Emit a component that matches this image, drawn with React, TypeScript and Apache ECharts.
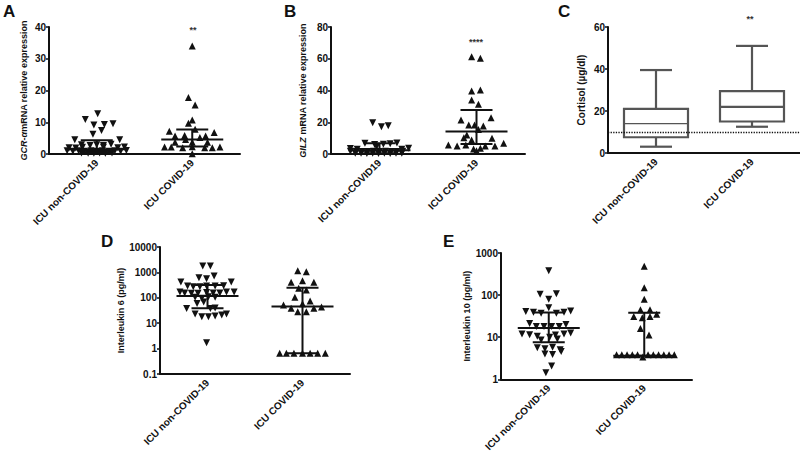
import React, { useEffect, useRef } from "react";
import * as echarts from "echarts";

// ---------- categories ----------
const catsA = ["ICU non-COVID-19", "ICU COVID-19"];
const catsB = ["ICU non-COVID19", "ICU COVID-19"];
const catsC = ["ICU non-COVID-19", "ICU COVID-19"];
const catsD = ["ICU non-COVID-19", "ICU COVID-19"];
const catsE = ["ICU non-COVID-19", "ICU COVID-19"];

// ---------- A: GCR-α mRNA relative expression  [jitter (category widths), value] ----------
const aNon: number[][] = [
  [0.01, 12.7], [-0.12, 10.9], [-0.03, 9.1], [0.08, 9.3], [0.17, 9.5], [0.05, 7.4], [-0.04, 6.2],
  [-0.23, 4.5], [0.24, 4.5],
  [-0.16, 2.9], [-0.07, 2.7], [0, 2.9], [0.07, 2.7], [0.15, 3.1],
  [-0.29, 2.0], [-0.22, 1.9], [-0.15, 2.1], [0.07, 2.1], [0.22, 2.0], [0.29, 2.2],
  [-0.31, 1.0], [-0.25, 0.9], [-0.19, 1.0], [-0.13, 0.9], [-0.06, 1.0], [0, 0.9], [0.06, 1.0],
  [0.13, 0.9], [0.19, 1.0], [0.25, 0.9], [0.31, 1.1],
  [-0.16, 0.3], [-0.09, 0.2], [-0.03, 0.2], [0.03, 0.3], [0.09, 0.2], [0.16, 0.3],
];
const aCov: number[][] = [
  [0, 34.0], [-0.04, 17.8], [0.03, 15.4], [-0.04, 9.7], [0, 10.7],
  [-0.24, 7.2], [0.03, 7.8], [0.23, 6.8], [-0.18, 5.7], [-0.08, 5.8], [0.14, 5.7],
  [-0.07, 4.6], [0.08, 5.2], [-0.18, 3.7], [0, 3.7], [0.16, 3.7],
  [-0.29, 2.2], [-0.22, 2.2], [-0.1, 2.0], [0, 2.3], [0.13, 2.0], [0.21, 2.0], [0.29, 2.2], [0, 0.1],
];
// [low, median, high]
const aSummary = [[0.5, 1.5, 4.3], [2.4, 4.6, 7.7]];

// ---------- B: GILZ mRNA relative expression ----------
const bNon: number[][] = [
  [-0.07, 19.7], [0.02, 17.2], [0.09, 17.8],
  [-0.15, 6.7], [-0.05, 6.0], [0.04, 6.2], [0.11, 6.5], [0.18, 6.9], [-0.03, 4.5],
  [-0.3, 3.4], [-0.23, 3.0], [0.23, 3.0], [0.3, 3.6],
  [-0.3, 1.8], [-0.24, 1.6], [-0.18, 1.5], [-0.12, 1.6], [-0.06, 1.7], [0, 1.5], [0.06, 1.7],
  [0.12, 1.6], [0.18, 1.5], [0.24, 1.7],
  [-0.25, 0.5], [-0.19, 0.4], [-0.13, 0.3], [-0.07, 0.4], [-0.01, 0.3], [0.05, 0.4], [0.11, 0.3],
  [0.17, 0.4], [0.23, 0.5],
];
const bCov: number[][] = [
  [-0.05, 61.3], [0.04, 60.3], [-0.05, 39.7], [0.04, 40.3], [-0.05, 34.0], [0.02, 31.3],
  [-0.16, 21.4], [0.15, 22.9], [-0.08, 18.3], [-0.02, 18.3], [0.07, 17.6], [0.02, 15.5],
  [-0.1, 12.0], [-0.13, 10.3], [-0.05, 8.8], [0.16, 9.9],
  [-0.29, 5.7], [-0.2, 5.0], [-0.11, 5.7], [-0.03, 3.1], [0.04, 3.6], [0.09, 5.0], [0.19, 5.0],
  [0.28, 6.7], [0.0, 2.0],
];
const bSummary = [[0.4, 2.3, 6.8], [6.3, 14.1, 27.7]];

// ---------- C: Cortisol (µg/dl) box plots [min, Q1, median, Q3, max] ----------
const cBoxes = [
  [3, 7.5, 14, 21, 39.5],
  [12.5, 15, 22, 29.5, 51],
];
const cReference = 10;

// ---------- D: Interleukin 6 (pg/ml) ----------
const dNon: number[][] = [
  [-0.05, 1780], [0.03, 1780], [-0.09, 615], [-0.01, 565], [0.07, 725], [-0.28, 415], [0.25, 415],
  [-0.21, 290], [-0.15, 275], [-0.08, 275], [-0.01, 290], [0.08, 290], [0.17, 300],
  [-0.29, 170], [-0.24, 155], [-0.17, 150], [-0.1, 150], [-0.01, 160], [0.06, 155], [0.13, 155],
  [0.2, 170], [0.28, 170],
  [-0.13, 105], [-0.06, 95], [0.01, 110], [0.08, 105], [-0.11, 60], [-0.04, 68],
  [-0.22, 38], [0.03, 38], [0.08, 40],
  [-0.13, 23], [-0.06, 18], [0.01, 18], [0.08, 19], [0.15, 21], [0.2, 23],
  [-0.01, 1.7],
];
const dCov: number[][] = [
  [-0.05, 1170], [0.04, 1070], [-0.12, 410], [0, 470], [0.12, 410], [-0.04, 235], [0.04, 205],
  [-0.08, 105], [0.08, 74], [-0.2, 52], [-0.12, 39], [0, 58], [0.12, 39], [0.2, 43],
  [-0.05, 28], [0.04, 28],
  [-0.24, 0.65], [-0.17, 0.65], [-0.09, 0.65], [0, 0.65], [0.08, 0.65], [0.16, 0.65], [0.24, 0.65],
];
const dSummary = [[39, 118, 320], [0.65, 45, 250]];

// ---------- E: Interleukin 10 (pg/ml) ----------
const eNon: number[][] = [
  [0, 380], [-0.09, 105], [0.08, 108], [0, 80], [0, 50],
  [-0.24, 41], [-0.16, 39], [-0.08, 37], [0.08, 37], [0.16, 39], [0.23, 42],
  [-0.2, 21], [-0.13, 18], [-0.05, 18], [0.03, 18], [0.11, 18], [0.18, 20],
  [-0.28, 11.9], [-0.2, 11.5], [-0.12, 10.5], [0.07, 11.3], [0.16, 11.9], [0.23, 12.6],
  [-0.08, 8.6], [0.01, 10], [0.09, 9.1],
  [-0.12, 5.6], [-0.04, 5.3], [0.04, 5.8], [0.12, 5.0],
  [-0.04, 4.0], [0.04, 3.9], [0.13, 4.6],
  [0.03, 2.06], [-0.03, 1.43],
];
const eCov: number[][] = [
  [0, 485], [0, 150], [0, 80], [-0.04, 45], [0.06, 45],
  [-0.11, 31], [-0.02, 29], [0.06, 31], [0.13, 35], [-0.04, 16], [0.05, 11.3],
  [-0.29, 3.8], [-0.235, 3.8], [-0.18, 3.8], [-0.125, 3.8], [-0.07, 3.8], [0.04, 3.8],
  [0.095, 3.8], [0.15, 3.8], [0.205, 3.8], [0.26, 3.8], [0.315, 3.8], [-0.015, 3.4],
];
const eSummary = [[7.6, 16.5, 38.5], [3.6, 3.6, 38]];

const FONT = "'Liberation Sans', Arial, Helvetica, sans-serif";
const INK = "#111";

export default function App() {
  const ref = useRef<HTMLDivElement>(null);

  useEffect(() => {
    if (!ref.current) return;
    const chart = echarts.init(ref.current, undefined, { renderer: "svg" });

    const grids = [
      { left: 49, top: 27, width: 191, height: 127 },
      { left: 331, top: 27, width: 194, height: 127 },
      { left: 608, top: 27, width: 192, height: 126 },
      { left: 160, top: 247, width: 190, height: 127 },
      { left: 501, top: 253, width: 191, height: 128 },
    ];
    const cats = [catsA, catsB, catsC, catsD, catsE];

    const xAxis: any[] = [];
    cats.forEach((c, i) => {
      xAxis.push({
        type: "category",
        gridIndex: i,
        data: c,
        boundaryGap: true,
        axisLine: { lineStyle: { color: INK, width: 2 } },
        axisTick: { alignWithLabel: true, length: 4, lineStyle: { color: INK, width: 1.5 } },
        axisLabel: {
          rotate: 45,
          margin: 7,
          color: INK,
          fontWeight: "bold",
          fontSize: 10,
          fontFamily: FONT,
        },
        splitLine: { show: false },
      });
      xAxis.push({ type: "value", gridIndex: i, min: 0, max: 2, show: false });
    });

    const yCommon = (i: number) => ({
      gridIndex: i,
      nameLocation: "middle",
      nameRotate: 90,
      axisLine: { show: true, lineStyle: { color: INK, width: 2 } },
      axisTick: { show: true, length: 3, lineStyle: { color: INK, width: 1.5 } },
      axisLabel: { color: INK, fontWeight: "bold", fontSize: 10, fontFamily: FONT, margin: 3 },
      splitLine: { show: false },
    });
    const nameStyle = {
      color: INK,
      fontWeight: "bold",
      fontSize: 9,
      fontFamily: FONT,
      rich: {
        i: { fontStyle: "italic", fontWeight: "bold", fontSize: 9, fontFamily: FONT, color: INK },
      },
    };

    const yAxis: any[] = [
      { ...yCommon(0), type: "value", min: 0, max: 40, interval: 10, name: "{i|GCR-α}mRNA relative expression", nameGap: 21, nameTextStyle: nameStyle },
      { ...yCommon(1), type: "value", min: 0, max: 80, interval: 20, name: "{i|GILZ} mRNA relative expression", nameGap: 24, nameTextStyle: nameStyle },
      { ...yCommon(2), type: "value", min: 0, max: 60, interval: 20, name: "Cortisol (µg/dl)", nameGap: 22, nameTextStyle: { ...nameStyle, fontSize: 10 } },
      { ...yCommon(3), type: "log", logBase: 10, min: 0.1, max: 10000, name: "Interleukin 6 (pg/ml)", nameGap: 30, nameTextStyle: nameStyle,
        axisLabel: { ...yCommon(3).axisLabel, formatter: (v: number) => (v < 1 ? "0.1" : String(Math.round(v))) } },
      { ...yCommon(4), type: "log", logBase: 10, min: 1, max: 1000, name: "Interleukin 10 (pg/ml)", nameGap: 26, nameTextStyle: nameStyle,
        axisLabel: { ...yCommon(4).axisLabel, formatter: (v: number) => String(Math.round(v)) } },
    ];

    const scatter = (i: number, pts: number[][], center: number, down: boolean) => ({
      type: "scatter",
      xAxisIndex: 2 * i + 1,
      yAxisIndex: i,
      symbol: "triangle",
      symbolSize: 7,
      symbolRotate: down ? 180 : 0,
      itemStyle: { color: INK, opacity: 1 },
      clip: false,
      data: pts.map(([dx, v]) => [center + dx, v]),
      z: 2,
    });

    const summary = (i: number, s: number[][]) => ({
      type: "custom",
      xAxisIndex: 2 * i + 1,
      yAxisIndex: i,
      z: 3,
      data: s.map((r, k) => [0.5 + k, r[0], r[1], r[2]]),
      renderItem: (_p: any, api: any) => {
        const c = api.value(0);
        const pl = api.coord([c, api.value(1)]);
        const pm = api.coord([c, api.value(2)]);
        const ph = api.coord([c, api.value(3)]);
        const st = { stroke: INK, lineWidth: 2, fill: "none" };
        return {
          type: "group",
          children: [
            { type: "line", shape: { x1: pm[0] - 31, y1: pm[1], x2: pm[0] + 31, y2: pm[1] }, style: st },
            { type: "line", shape: { x1: pl[0], y1: pl[1], x2: ph[0], y2: ph[1] }, style: st },
            { type: "line", shape: { x1: ph[0] - 16, y1: ph[1], x2: ph[0] + 16, y2: ph[1] }, style: st },
            { type: "line", shape: { x1: pl[0] - 16, y1: pl[1], x2: pl[0] + 16, y2: pl[1] }, style: st },
          ],
        };
      },
    });

    const BOXC = "#555";
    const boxSeries = {
      type: "custom",
      xAxisIndex: 5,
      yAxisIndex: 2,
      z: 3,
      data: cBoxes.map((b, k) => [0.5 + k, ...b]),
      renderItem: (p: any, api: any) => {
        const c = api.value(0);
        const pMin = api.coord([c, api.value(1)]);
        const pQ1 = api.coord([c, api.value(2)]);
        const pMed = api.coord([c, api.value(3)]);
        const pQ3 = api.coord([c, api.value(4)]);
        const pMax = api.coord([c, api.value(5)]);
        const st = { stroke: BOXC, lineWidth: 2.2, fill: "none" };
        const x = pQ1[0];
        return {
          type: "group",
          children: [
            { type: "rect", shape: { x: x - 32, y: pQ3[1], width: 64, height: pQ1[1] - pQ3[1] }, style: { ...st, fill: "#fff" } },
            { type: "line", shape: { x1: x - 32, y1: pMed[1], x2: x + 32, y2: pMed[1] }, style: { ...st, lineWidth: p.dataIndex === 0 ? 1.3 : 2.2 } },
            { type: "line", shape: { x1: x, y1: pQ3[1], x2: x, y2: pMax[1] }, style: st },
            { type: "line", shape: { x1: x, y1: pQ1[1], x2: x, y2: pMin[1] }, style: st },
            { type: "line", shape: { x1: x - 16, y1: pMax[1], x2: x + 16, y2: pMax[1] }, style: st },
            { type: "line", shape: { x1: x - 16, y1: pMin[1], x2: x + 16, y2: pMin[1] }, style: st },
          ],
        };
      },
      markLine: {
        silent: true,
        symbol: "none",
        label: { show: false },
        lineStyle: { type: "dotted", color: INK, width: 1.3 },
        data: [{ yAxis: cReference }],
      },
    };

    const letter = (t: string, x: number, y: number) => ({
      type: "text",
      left: x,
      top: y,
      style: { text: t, font: `bold 17px ${FONT}`, fill: INK },
    });
    const star = (t: string, x: number, y: number) => ({
      type: "text",
      x,
      y,
      style: { text: t, font: `bold 9px ${FONT}`, fill: "#333", align: "center", verticalAlign: "middle" },
    });

    chart.setOption({
      animation: false,
      backgroundColor: "#fff",
      grid: grids.map((g) => ({ ...g, containLabel: false })),
      xAxis,
      yAxis,
      series: [
        scatter(0, aNon, 0.5, true),
        scatter(0, aCov, 1.5, false),
        summary(0, aSummary),
        scatter(1, bNon, 0.5, true),
        scatter(1, bCov, 1.5, false),
        summary(1, bSummary),
        boxSeries,
        scatter(3, dNon, 0.5, true),
        scatter(3, dCov, 1.5, false),
        summary(3, dSummary),
        scatter(4, eNon, 0.5, true),
        scatter(4, eCov, 1.5, false),
        summary(4, eSummary),
      ],
      graphic: [
        letter("A", 3, 3),
        letter("B", 284, 3),
        letter("C", 558, 3),
        letter("D", 101, 233),
        letter("E", 443, 233),
        star("**", 193, 30),
        star("****", 476, 42),
        star("**", 750, 19),
      ],
    });

    return () => chart.dispose();
  }, []);

  return (
    <div
      ref={ref}
      style={{ position: "fixed", left: 0, top: 0, width: 800, height: 454, background: "#fff" }}
    />
  );
}
